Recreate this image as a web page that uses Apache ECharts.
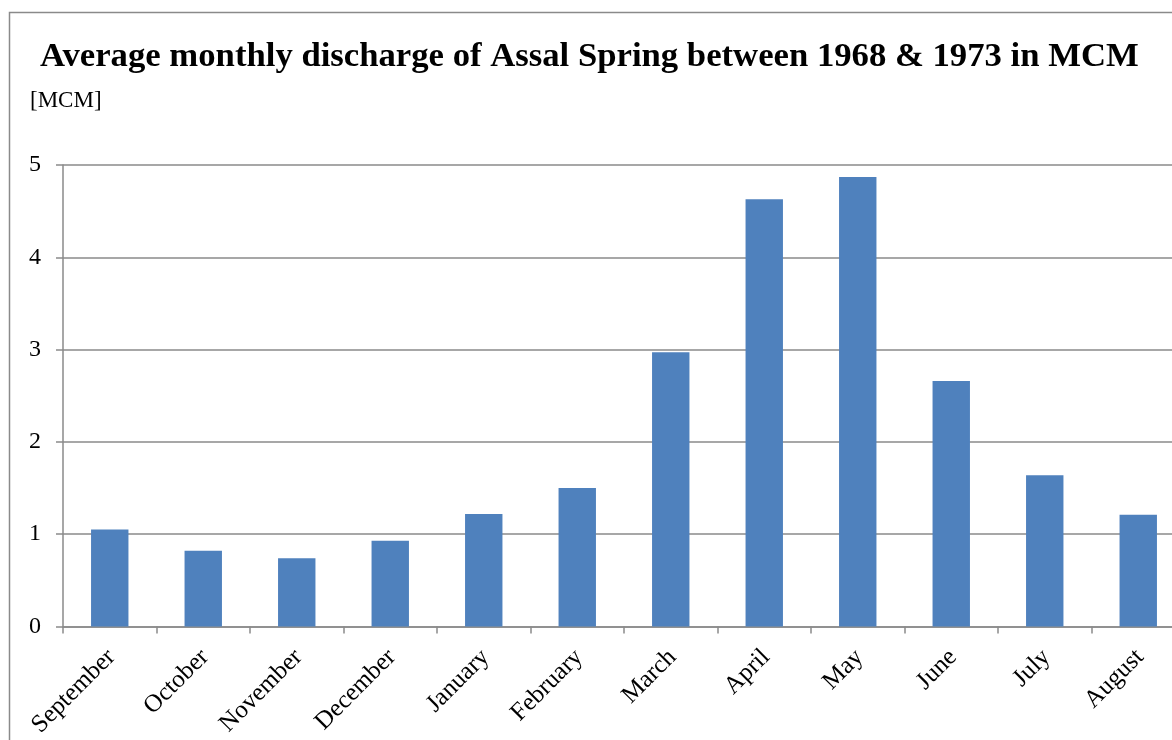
<!DOCTYPE html>
<html>
<head>
<meta charset="utf-8">
<script src="https://cdn.jsdelivr.net/npm/echarts@6/dist/echarts.min.js"></script>
<style>
html,body{margin:0;padding:0;background:#fff;}
#chart{width:1172px;height:740px;}
</style>
</head>
<body>
<div id="chart"></div>
<script>
const categories = ['September','October','November','December','January','February','March','April','May','June','July','August'];
const discharge = [1.05, 0.82, 0.74, 0.93, 1.22, 1.50, 2.97, 4.63, 4.87, 2.66, 1.64, 1.21];
const yTicks = [0, 1, 2, 3, 4, 5];
const titleText = 'Average monthly discharge of Assal Spring between 1968 & 1973 in MCM';
const unitText = '[MCM]';

const serif = '"Liberation Serif", "Times New Roman", serif';
const chart = echarts.init(document.getElementById('chart'));
chart.setOption({
  backgroundColor: '#ffffff',
  animation: false,
  title: {
    text: titleText,
    left: 35, top: 35,
    textStyle: { fontFamily: serif, fontWeight: 'bold', fontSize: 34.7, color: '#000' }
  },
  graphic: [
    { type: 'rect', shape: { x: 9.5, y: 12.5, width: 1300, height: 900 },
      style: { fill: 'none', stroke: '#8a8a8a', lineWidth: 1.5 }, silent: true, z: 100 },
    { type: 'text', left: 30, top: 89,
      style: { text: unitText, font: '23px ' + serif, fill: '#000' } }
  ],
  grid: { left: 63, width: 1122, top: 165, height: 461.5, containLabel: false, outerBoundsMode: 'none' },
  xAxis: {
    type: 'category',
    data: categories,
    boundaryGap: true,
    axisLine: { lineStyle: { color: '#8a8a8a', width: 1.5 } },
    axisTick: { show: true, length: 7, alignWithLabel: false, lineStyle: { color: '#8a8a8a', width: 1.5 } },
    axisLabel: {
      rotate: 45, interval: 0, margin: 11,
      fontFamily: serif, fontSize: 25, color: '#000',
      verticalAlign: 'top', padding: [0, 10, 0, 0]
    },
    splitLine: { show: false }
  },
  yAxis: {
    type: 'value',
    min: yTicks[0], max: yTicks[yTicks.length - 1], interval: 1,
    axisLine: { show: true, lineStyle: { color: '#8a8a8a', width: 1.5 } },
    axisTick: { show: true, length: 7, lineStyle: { color: '#8a8a8a', width: 1.5 } },
    axisLabel: { margin: 22, fontFamily: serif, fontSize: 24, color: '#000' },
    splitLine: { show: true, lineStyle: { color: '#8a8a8a', width: 1.5 } }
  },
  series: [{
    type: 'bar',
    data: discharge,
    barWidth: '40%',
    itemStyle: { color: '#4F81BD' }
  }]
});
</script>
</body>
</html>
